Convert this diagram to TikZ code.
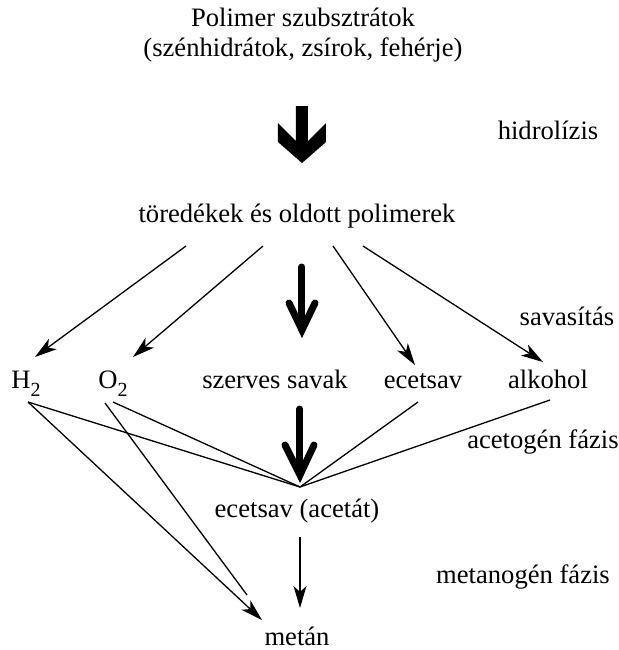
\documentclass[tikz,border=0pt]{standalone}
\usepackage{fontspec}
\setmainfont{Liberation Serif}
\usetikzlibrary{arrows.meta}
\newcommand{\alsoindex}[1]{\raisebox{-4pt}{\fontsize{10}{10}\selectfont #1}}
\begin{document}
\begin{tikzpicture}[x=0.5pt,y=-0.5pt,font=\fontsize{13.3}{15}\selectfont,
        lbl/.style={anchor=base,inner sep=0pt},
        nyil/.style={line width=0.65pt,-{Stealth[length=11pt,width=6.5pt,inset=3pt]}},
        vonal/.style={line width=0.65pt},
        vastag/.style={line width=3.5pt,line cap=round,line join=miter}]
    \useasboundingbox (0,0) rectangle (619,650);
    \node[lbl,align=center] (poli) at (303,56) {Polimer szubsztrátok\\(szénhidrátok, zsírok, fehérje)};
    \node[lbl] (hidr) at (548,139) {hidrolízis};
    \node[lbl] (tor) at (297,222) {töredékek és oldott polimerek};
    \node[lbl] (savas) at (567,325) {savasítás};
    \node[lbl] (h2) at (26,388) {H\alsoindex{2}};
    \node[lbl] (o2) at (113,388) {O\alsoindex{2}};
    \node[lbl] (szerves) at (275,388) {szerves savak};
    \node[lbl] (ecet) at (423,388) {ecetsav};
    \node[lbl] (alk) at (548,388) {alkohol};
    \node[lbl] (acetog) at (543,448) {acetogén fázis};
    \node[lbl] (acet) at (297,517) {ecetsav (acetát)};
    \node[lbl] (metanog) at (523,583) {metanogén fázis};
    \node[lbl] (metan) at (297,645) {metán};
    \coordinate (t1) at (186,246); \coordinate (t2) at (263,246);
    \coordinate (t3) at (333,246); \coordinate (t4) at (363,246);
    \coordinate (h2be) at (35,357); \coordinate (o2be) at (133,357);
    \coordinate (ecetbe) at (415,365); \coordinate (alkbe) at (543,362);
    \coordinate (h2ki) at (28,402); \coordinate (o2ki) at (113,402); \coordinate (o2ki2) at (105,403);
    \coordinate (ecetki) at (418,402); \coordinate (alkki) at (550,400);
    \coordinate (gyujt) at (300,487); \coordinate (o2vege) at (247,595);
    \coordinate (metanbe) at (262,620);
    \coordinate (acetki) at (300,537); \coordinate (metanfel) at (300,608);
    \fill (296,106) -- (308,106) -- (308,141) -- (326,123) -- (326,142) -- (302,163)
        -- (278,142) -- (278,123) -- (296,141) -- cycle;
    \draw[vastag] (302,267) -- (302,328);
    \draw[vastag] (289,303) -- (302,330) -- (315,303);
    \draw[vastag] (300,409) -- (300,472);
    \draw[vastag] (285,445) -- (300,475) -- (314,445);
    \draw[nyil] (t1) -- (h2be);
    \draw[nyil] (t2) -- (o2be);
    \draw[nyil] (t3) -- (ecetbe);
    \draw[nyil] (t4) -- (alkbe);
    \draw[vonal] (h2ki) -- (gyujt);
    \draw[vonal] (o2ki) -- (gyujt);
    \draw[vonal] (ecetki) -- (gyujt);
    \draw[vonal] (alkki) -- (gyujt);
    \draw[vonal] (o2ki2) -- (o2vege);
    \draw[nyil] (h2ki) -- (metanbe);
    \draw[nyil] (acetki) -- (metanfel);
\end{tikzpicture}
\end{document}
